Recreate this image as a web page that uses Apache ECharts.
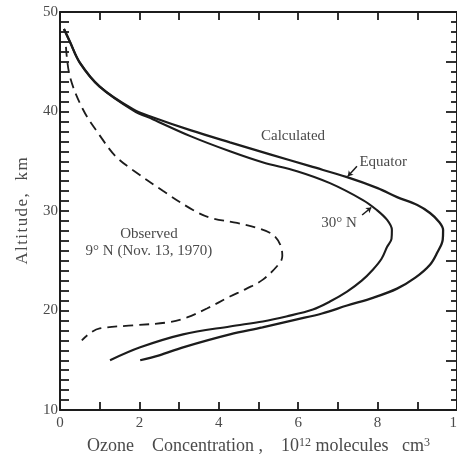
<!DOCTYPE html>
<html>
<head>
<meta charset="utf-8">
<script src="https://cdn.jsdelivr.net/npm/echarts@6/dist/echarts.min.js"></script>
<style>
  html, body { margin: 0; padding: 0; background: #fff; }
  #chart { width: 457px; height: 460px; }
</style>
</head>
<body>
<div id="chart"></div>
<script>
// ozone concentration (10^12 molecules/cm3) vs altitude (km)
const equator = [
  [0.1, 48.3], [0.25, 47], [0.5, 44.9], [1.0, 42.5], [1.85, 40.2], [2.35, 39.4],
  [3.3, 38.1], [4.28, 36.9], [5.29, 35.7], [6.3, 34.5], [7.23, 33.4], [8.0, 32.3],
  [8.49, 31.4], [9.0, 30.6], [9.32, 29.8], [9.55, 28.9], [9.65, 28.1], [9.64, 27.1],
  [9.5, 25.8], [9.32, 24.6], [8.95, 23.3], [8.49, 22.2], [7.9, 21.3], [7.23, 20.5],
  [6.6, 19.7], [5.97, 19.1], [5.1, 18.3], [4.28, 17.6], [3.1, 16.3], [2.5, 15.5], [2.02, 15.0]
]
const north30 = [
  [0.1, 48.3], [0.25, 47], [0.5, 44.9], [1.0, 42.5], [1.85, 40.1], [2.35, 39.2],
  [3.3, 37.5], [4.28, 36.0], [5.1, 34.9], [5.97, 34.0], [6.8, 32.8], [7.63, 31.1],
  [7.98, 30.1], [8.24, 29.1], [8.36, 28.1], [8.35, 27.2], [8.24, 26.4], [8.1, 25.2],
  [7.88, 24.1], [7.6, 23.0], [7.23, 21.9], [6.8, 20.9], [6.37, 20.1], [5.7, 19.4],
  [5.11, 18.9], [4.28, 18.4], [3.1, 17.6], [2.02, 16.3], [1.26, 15.0]
]
const observed = [
  [0.15, 46.5], [0.25, 43.5], [0.58, 40.2], [1.0, 37.6], [1.4, 35.5], [1.84, 34.1],
  [2.6, 32.0], [3.35, 30.1], [3.8, 29.3], [4.46, 28.8], [5.04, 28.2], [5.37, 27.6],
  [5.55, 26.6], [5.6, 25.5], [5.54, 24.8], [5.11, 23.1], [4.7, 22.2], [4.28, 21.4],
  [3.7, 20.2], [3.2, 19.3], [2.7, 18.8], [1.84, 18.5], [1.0, 18.2], [0.75, 17.7], [0.55, 17.0]
]
const xRange = [0, 10]
const yRange = [10, 50]
const xLabelStep = 2
const yLabelStep = 10

const FONT = "'Liberation Serif', 'DejaVu Serif', serif"
const INK = '#1c1c1c'
const TEXT = '#4a4a4a'

const chart = echarts.init(document.getElementById('chart'))

const label = (text, coord) => ({
  coord,
  value: text,
  symbolSize: 0,
  label: {
    show: true,
    position: 'inside',
    formatter: text,
    fontFamily: FONT,
    fontSize: 15,
    color: TEXT
  }
})

const arrow = (from, to) => [
  { coord: from },
  { coord: to }
]

// one frame side: line plus inward ticks, no labels unless given
// onZero off, otherwise the right axis jumps onto x = 0
const side = (position, range, interval, tickLen, extra) => ({
  type: 'value',
  position,
  min: range[0],
  max: range[1],
  interval,
  axisLine: { onZero: false, lineStyle: { color: INK, width: 2 } },
  axisTick: { inside: true, length: tickLen, lineStyle: { color: INK, width: 1.8 } },
  axisLabel: { show: false },
  splitLine: { show: false },
  ...extra
})

const tickText = (step) => ({
  show: true,
  fontFamily: FONT,
  fontSize: 15,
  color: TEXT,
  formatter: v => (Math.round(v) % step === 0 ? String(v) : '')
})

chart.setOption({
  animation: false,
  backgroundColor: '#fff',
  grid: { left: 60, right: 0, top: 12, bottom: 50, outerBoundsMode: 'none', containLabel: false },
  xAxis: [
    side('bottom', xRange, 1, 8, {
      axisLabel: { ...tickText(xLabelStep), margin: 6 },
      name: '{t|Ozone    Concentration ,    10}{s|12}{t| molecules   cm}{s|3}',
      nameLocation: 'middle',
      nameGap: 27,
      nameTextStyle: {
        rich: {
          t: { fontFamily: FONT, fontSize: 18, color: TEXT },
          s: { fontFamily: FONT, fontSize: 12, color: TEXT, verticalAlign: 'top' }
        }
      }
    }),
    side('top', xRange, 1, 8)
  ],
  yAxis: [
    side('left', yRange, 1, 9, {
      axisLabel: { ...tickText(yLabelStep), margin: 2 },
      name: 'A\u200Al\u200At\u200Ai\u200At\u200Au\u200Ad\u200Ae\u200A,   k\u200Am',
      nameLocation: 'middle',
      nameGap: 29,
      nameTextStyle: { fontFamily: FONT, fontSize: 17, color: TEXT }
    }),
    side('right', yRange, 5, 11, {
      minorTick: { show: true, splitNumber: 5, length: 6, lineStyle: { color: INK, width: 1.8 } }
    })
  ],
  series: [
    {
      name: 'Equator',
      type: 'line',
      data: equator,
      smooth: 0.35,
      showSymbol: false,
      lineStyle: { color: INK, width: 2.3 },
      markLine: {
        silent: true,
        symbol: ['none', 'arrow'],
        symbolSize: 5,
        lineStyle: { color: INK, width: 1.5, type: 'solid' },
        label: { show: false },
        data: [arrow([7.48, 34.5], [7.25, 33.5]), arrow([7.61, 29.6], [7.84, 30.35])]
      },
      markPoint: {
        silent: true,
        symbol: 'circle',
        data: [
          label('Calculated', [5.87, 37.5]),
          label('Equator', [8.14, 34.9]),
          label('30° N', [7.03, 28.8]),
          label('Observed', [2.24, 27.7]),
          label('9° N (Nov. 13, 1970)', [2.24, 26.0])
        ]
      }
    },
    {
      name: '30° N',
      type: 'line',
      data: north30,
      smooth: 0.35,
      showSymbol: false,
      lineStyle: { color: INK, width: 2.1 }
    },
    {
      name: 'Observed',
      type: 'line',
      data: observed,
      smooth: 0.35,
      showSymbol: false,
      lineStyle: { color: INK, width: 1.8, type: [10, 6] }
    }
  ]
})
</script>
</body>
</html>
